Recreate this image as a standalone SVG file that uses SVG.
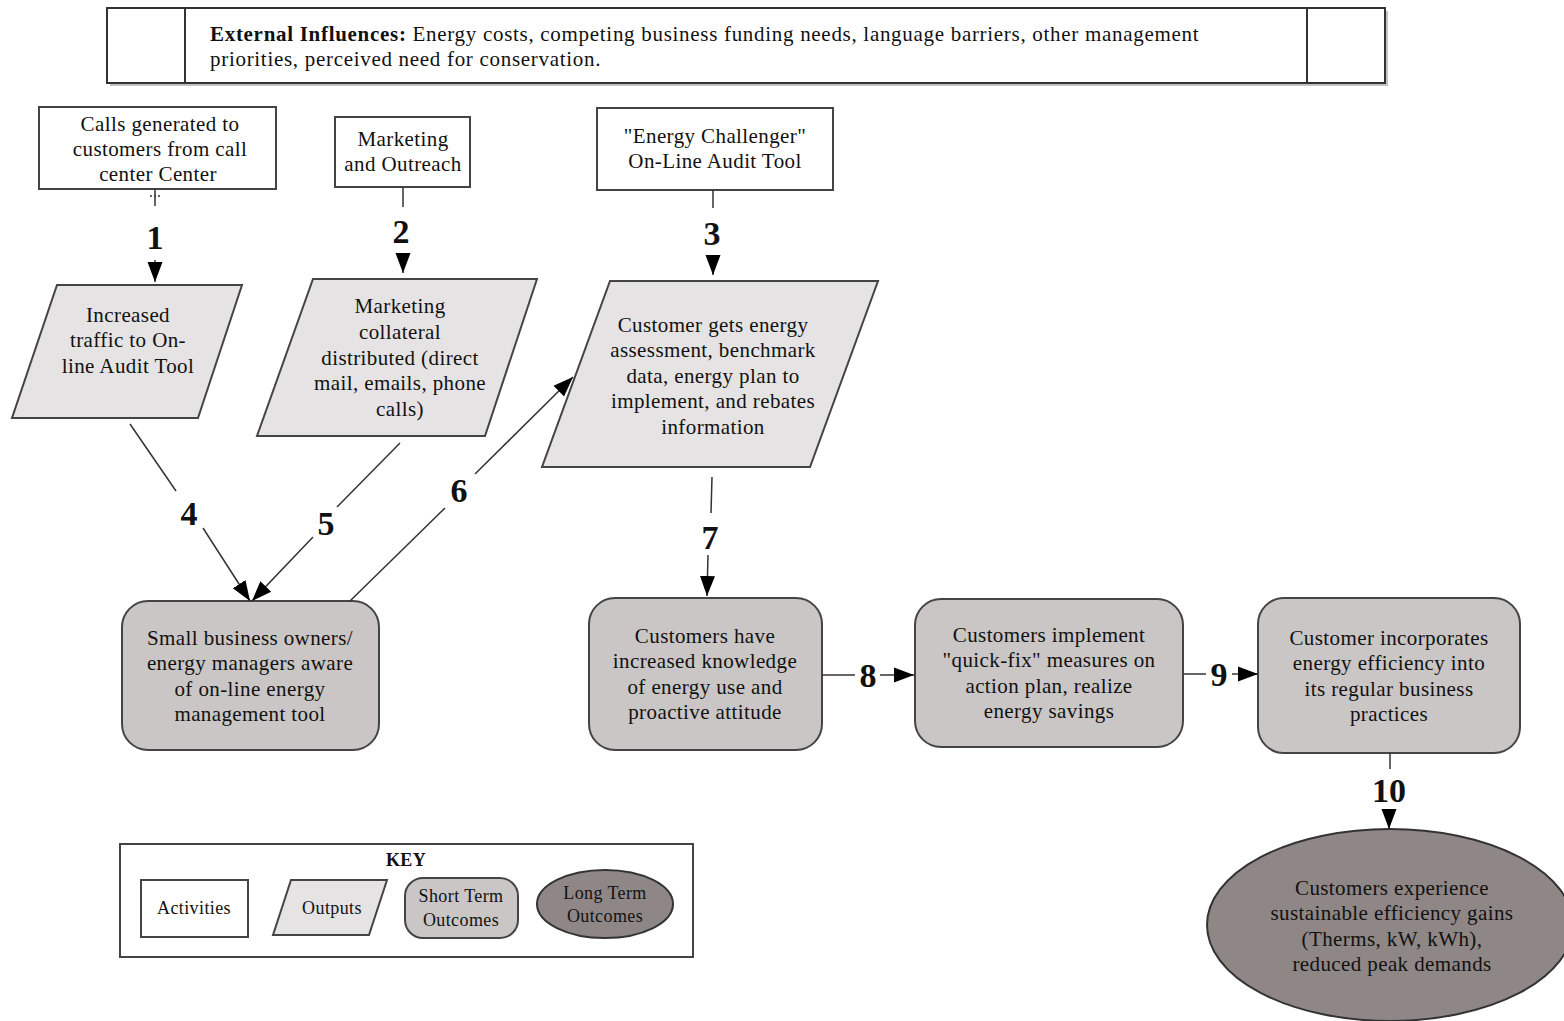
<svg xmlns="http://www.w3.org/2000/svg" width="1564" height="1021" viewBox="0 0 1564 1021">
  <defs>
    <style>
      .t { font-family: "Liberation Serif", "Times New Roman", serif; font-size: 21px; letter-spacing: 0.4px; fill: #111; text-anchor: middle; }
      .tb { font-family: "Liberation Serif", "Times New Roman", serif; font-size: 21px; letter-spacing: 0.7px; fill: #111; }
      .ts { font-family: "Liberation Serif", "Times New Roman", serif; font-size: 18px; letter-spacing: 0.4px; fill: #111; text-anchor: middle; }
      .num { font-family: "Liberation Serif", "Times New Roman", serif; font-size: 34px; font-weight: bold; fill: #111; text-anchor: middle; }
      .act { fill: #ffffff; stroke: #444; stroke-width: 2; }
      .out { fill: #e5e3e3; stroke: #444; stroke-width: 2; }
      .st { fill: #c9c6c5; stroke: #444; stroke-width: 2; }
      .lt { fill: #8f8686; stroke: #333; stroke-width: 2; }
      .edge { fill: none; stroke: #333; stroke-width: 1.5; }
    </style>
    <marker id="arr" markerUnits="userSpaceOnUse" markerWidth="22" markerHeight="22" viewBox="0 0 22 22" refX="20" refY="11" orient="auto">
      <path d="M0,3.5 L20,11 L0,18.5 Z" fill="#000"/>
    </marker>
  </defs>

  <!-- External influences banner -->
  <g id="external">
    <rect x="110" y="11" width="1278" height="75" fill="#888" opacity="0.5"/>
    <rect x="107" y="8" width="1278" height="75" fill="#fff" stroke="#333" stroke-width="2"/>
    <line x1="185" y1="8" x2="185" y2="83" stroke="#333" stroke-width="2"/>
    <line x1="1307" y1="8" x2="1307" y2="83" stroke="#333" stroke-width="2"/>
    <text x="210" y="41" class="tb"><tspan font-weight="bold">External Influences:</tspan> Energy costs, competing business funding needs, language barriers, other management</text>
    <text x="210" y="66" class="tb">priorities, perceived need for conservation.</text>
  </g>

  <!-- Activities -->
  <g id="act1">
    <rect x="39" y="107" width="237" height="82" class="act"/>
    <text class="t" x="160" y="131">Calls generated to</text>
    <text class="t" x="160" y="156">customers from call</text>
    <text class="t" x="158" y="181">center Center</text>
  </g>
  <g id="act2">
    <rect x="335" y="117" width="135" height="70" class="act"/>
    <text class="t" x="403" y="146">Marketing</text>
    <text class="t" x="403" y="171">and Outreach</text>
  </g>
  <g id="act3">
    <rect x="597" y="108" width="236" height="82" class="act"/>
    <text class="t" x="715" y="143">"Energy Challenger"</text>
    <text class="t" x="715" y="168">On-Line Audit Tool</text>
  </g>

  <!-- Outputs -->
  <g id="out1">
    <polygon points="57,285 242,285 198,418 12,418" class="out"/>
    <text class="t" x="128" y="322">Increased</text>
    <text class="t" x="128" y="347">traffic to On-</text>
    <text class="t" x="128" y="373">line Audit Tool</text>
  </g>
  <g id="out2">
    <polygon points="313,279 537,279 485,436 257,436" class="out"/>
    <text class="t" x="400" y="313">Marketing</text>
    <text class="t" x="400" y="339">collateral</text>
    <text class="t" x="400" y="365">distributed (direct</text>
    <text class="t" x="400" y="390">mail, emails, phone</text>
    <text class="t" x="400" y="416">calls)</text>
  </g>
  <g id="out3">
    <polygon points="610,281 878,281 810,467 542,467" class="out"/>
    <text class="t" x="713" y="332">Customer gets energy</text>
    <text class="t" x="713" y="357">assessment, benchmark</text>
    <text class="t" x="713" y="383">data, energy plan to</text>
    <text class="t" x="713" y="408">implement, and rebates</text>
    <text class="t" x="713" y="434">information</text>
  </g>

  <!-- Short term outcomes -->
  <g id="short1">
    <rect x="122" y="601" width="257" height="149" rx="26" class="st"/>
    <text class="t" x="250" y="645">Small business owners/</text>
    <text class="t" x="250" y="670">energy managers aware</text>
    <text class="t" x="250" y="696">of on-line energy</text>
    <text class="t" x="250" y="721">management tool</text>
  </g>
  <g id="short2">
    <rect x="589" y="598" width="233" height="152" rx="26" class="st"/>
    <text class="t" x="705" y="643">Customers have</text>
    <text class="t" x="705" y="668">increased knowledge</text>
    <text class="t" x="705" y="694">of energy use and</text>
    <text class="t" x="705" y="719">proactive attitude</text>
  </g>
  <g id="short3">
    <rect x="915" y="599" width="268" height="148" rx="26" class="st"/>
    <text class="t" x="1049" y="642">Customers implement</text>
    <text class="t" x="1049" y="667">"quick-fix" measures on</text>
    <text class="t" x="1049" y="693">action plan, realize</text>
    <text class="t" x="1049" y="718">energy savings</text>
  </g>
  <g id="short4">
    <rect x="1258" y="598" width="262" height="155" rx="26" class="st"/>
    <text class="t" x="1389" y="645">Customer incorporates</text>
    <text class="t" x="1389" y="670">energy efficiency into</text>
    <text class="t" x="1389" y="696">its regular business</text>
    <text class="t" x="1389" y="721">practices</text>
  </g>

  <!-- Long term outcome -->
  <g id="long1">
    <ellipse cx="1390" cy="925" rx="183" ry="96" class="lt"/>
    <text class="t" x="1392" y="895">Customers experience</text>
    <text class="t" x="1392" y="920">sustainable efficiency gains</text>
    <text class="t" x="1392" y="946">(Therms, kW, kWh),</text>
    <text class="t" x="1392" y="971">reduced peak demands</text>
  </g>

  <!-- Connectors -->
  <g id="connectors">
    <line class="edge" x1="155" y1="189" x2="155" y2="206"/>
    <line class="edge" x1="150" y1="196" x2="160" y2="196" stroke-dasharray="2,2"/>
    <text class="num" x="155" y="249">1</text>
    <line class="edge" x1="155" y1="260" x2="155" y2="282" marker-end="url(#arr)"/>

    <line class="edge" x1="403" y1="187" x2="403" y2="207"/>
    <text class="num" x="401" y="243">2</text>
    <line class="edge" x1="403" y1="254" x2="403" y2="273" marker-end="url(#arr)"/>

    <line class="edge" x1="713" y1="190" x2="713" y2="208"/>
    <text class="num" x="712" y="245">3</text>
    <line class="edge" x1="713" y1="255" x2="713" y2="275" marker-end="url(#arr)"/>

    <line class="edge" x1="130" y1="424" x2="176" y2="491"/>
    <text class="num" x="189" y="525">4</text>
    <line class="edge" x1="203" y1="528" x2="250" y2="601" marker-end="url(#arr)"/>

    <line class="edge" x1="400" y1="443" x2="337" y2="507"/>
    <text class="num" x="326" y="535">5</text>
    <line class="edge" x1="313" y1="537" x2="252" y2="601" marker-end="url(#arr)"/>

    <line class="edge" x1="350" y1="601" x2="445" y2="508"/>
    <text class="num" x="459" y="502">6</text>
    <line class="edge" x1="475" y1="474" x2="573" y2="377" marker-end="url(#arr)"/>

    <line class="edge" x1="712" y1="477" x2="711" y2="513"/>
    <text class="num" x="710" y="549">7</text>
    <line class="edge" x1="708" y1="555" x2="707" y2="596" marker-end="url(#arr)"/>

    <line class="edge" x1="822" y1="675" x2="855" y2="675"/>
    <text class="num" x="868" y="687">8</text>
    <line class="edge" x1="880" y1="675" x2="914" y2="675" marker-end="url(#arr)"/>

    <line class="edge" x1="1183" y1="674" x2="1206" y2="674"/>
    <text class="num" x="1219" y="686">9</text>
    <line class="edge" x1="1232" y1="674" x2="1258" y2="674" marker-end="url(#arr)"/>

    <line class="edge" x1="1390" y1="753" x2="1390" y2="769"/>
    <text class="num" x="1389" y="802">10</text>
    <line class="edge" x1="1389" y1="810" x2="1389" y2="829" marker-end="url(#arr)"/>
  </g>

  <!-- Key -->
  <g id="key">
    <rect x="120" y="844" width="573" height="113" fill="#fff" stroke="#444" stroke-width="2"/>
    <text x="406" y="866" class="ts" font-weight="bold">KEY</text>
    <rect x="141" y="880" width="107" height="57" class="act"/>
    <text class="ts" x="194" y="914">Activities</text>
    <polygon points="291,880 387,880 369,935 273,935" class="out"/>
    <text class="ts" x="332" y="914">Outputs</text>
    <rect x="405" y="878" width="113" height="60" rx="18" class="st"/>
    <text class="ts" x="461" y="902">Short Term</text>
    <text class="ts" x="461" y="926">Outcomes</text>
    <ellipse cx="605" cy="904" rx="68" ry="34" class="lt"/>
    <text class="ts" x="605" y="899">Long Term</text>
    <text class="ts" x="605" y="922">Outcomes</text>
  </g>
</svg>
